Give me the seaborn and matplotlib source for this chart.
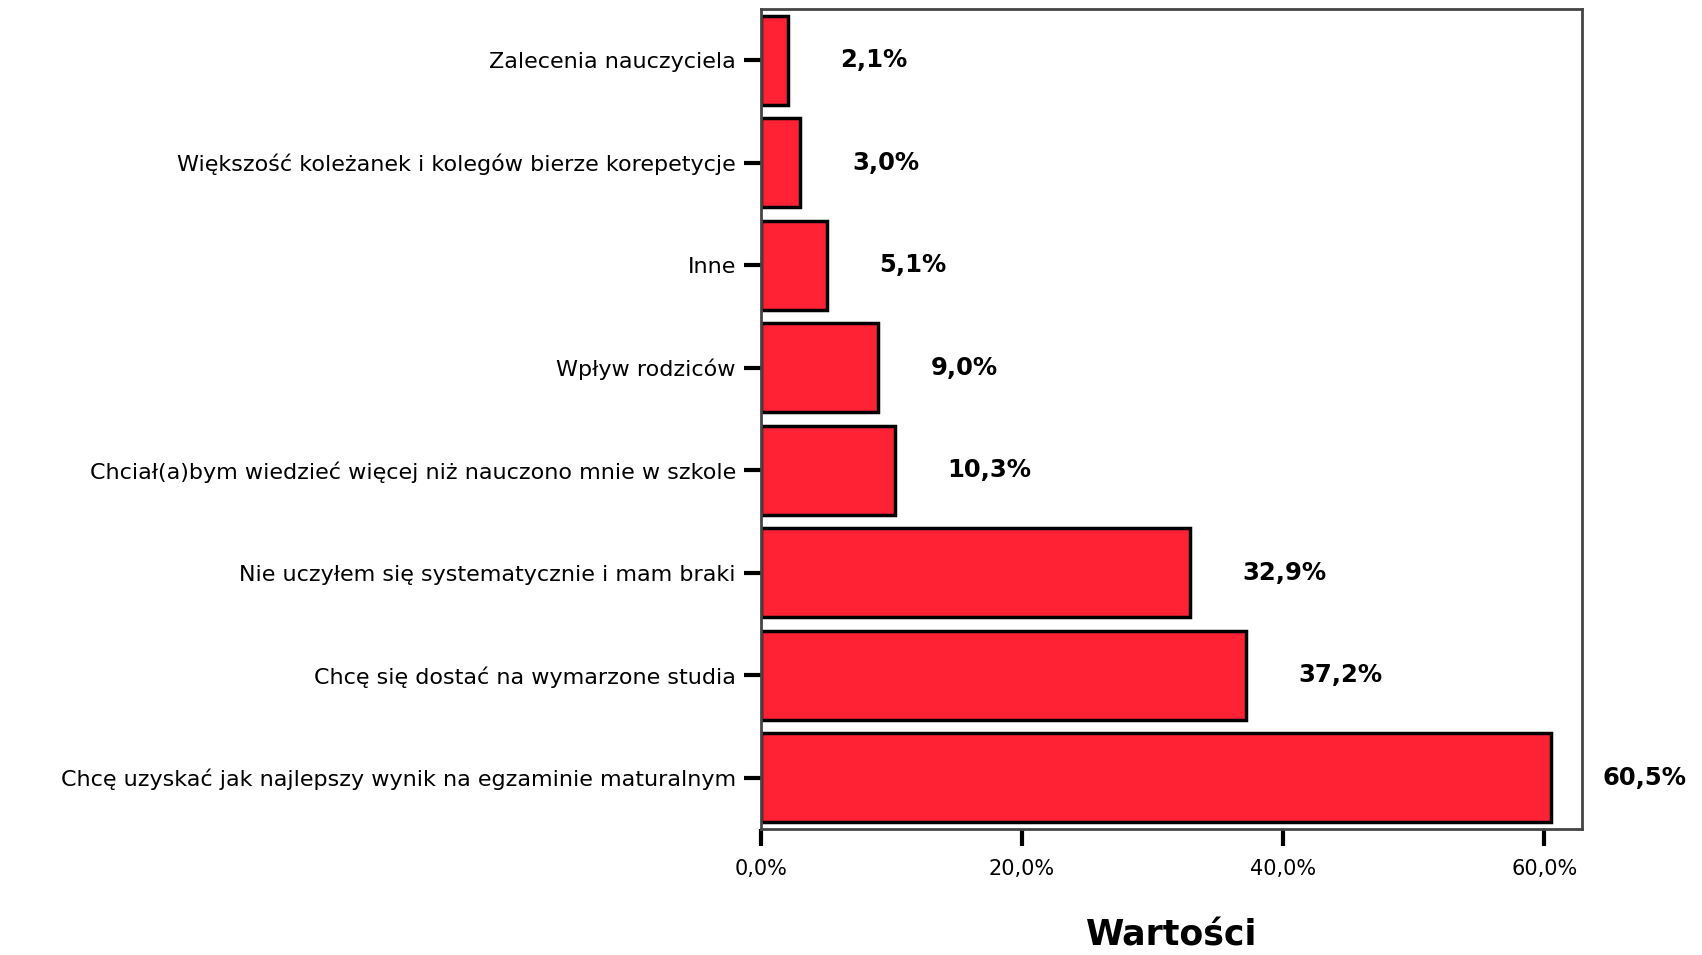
import numpy as np
import pandas as pd
import matplotlib
matplotlib.use("Agg")
import matplotlib.pyplot as plt
import seaborn as sns

# Powody brania korepetycji (odsetek odpowiedzi)
categories = [
    "Zalecenia nauczyciela",
    "Większość koleżanek i kolegów bierze korepetycje",
    "Inne",
    "Wpływ rodziców",
    "Chciał(a)bym wiedzieć więcej niż nauczono mnie w szkole",
    "Nie uczyłem się systematycznie i mam braki",
    "Chcę się dostać na wymarzone studia",
    "Chcę uzyskać jak najlepszy wynik na egzaminie maturalnym",
]
values = [2.1, 3.0, 5.1, 9.0, 10.3, 32.9, 37.2, 60.5]
value_labels = ["2,1%", "3,0%", "5,1%", "9,0%", "10,3%", "32,9%", "37,2%", "60,5%"]
x_ticks = [0, 20, 40, 60]
x_tick_labels = ["0,0%", "20,0%", "40,0%", "60,0%"]

df = pd.DataFrame({"kategoria": categories, "wartosc": values})

sns.set_style("white")
plt.rcParams["font.family"] = ["DejaVu Sans"]
plt.rcParams["text.color"] = "black"
plt.rcParams["xtick.color"] = "black"
plt.rcParams["ytick.color"] = "black"
plt.rcParams["axes.labelcolor"] = "black"

fig = plt.figure(figsize=(17.02, 9.55), dpi=100)
ax = fig.add_axes([0.447, 0.132, 0.4825, 0.8586])

sns.barplot(data=df, x="wartosc", y="kategoria", orient="h", color="#ff2234",
            saturation=1, width=0.87, edgecolor="black", linewidth=2.5, ax=ax)

# Etykiety wartości przy słupkach
for i, (v, lab) in enumerate(zip(values, value_labels)):
    ax.text(v + 4.0, i, lab, ha="left", va="center", fontsize=17.5,
            fontweight="bold", color="black", clip_on=False)

ax.set_xlim(0, 62.9)
ax.set_ylim(7.5, -0.5)
ax.set_xticks(x_ticks)
ax.set_xticklabels(x_tick_labels, fontsize=15)
ax.tick_params(axis="y", labelsize=16, length=12, width=3, pad=6, direction="out", left=True)
ax.tick_params(axis="x", length=12, width=3, pad=10, direction="out", bottom=True)

for s in ax.spines.values():
    s.set_color("#454545")
    s.set_linewidth(2)

ax.set_ylabel("")
ax.set_xlabel("Wartości", fontsize=25, fontweight="bold", labelpad=28)

fig.savefig("out.png", dpi=100)
